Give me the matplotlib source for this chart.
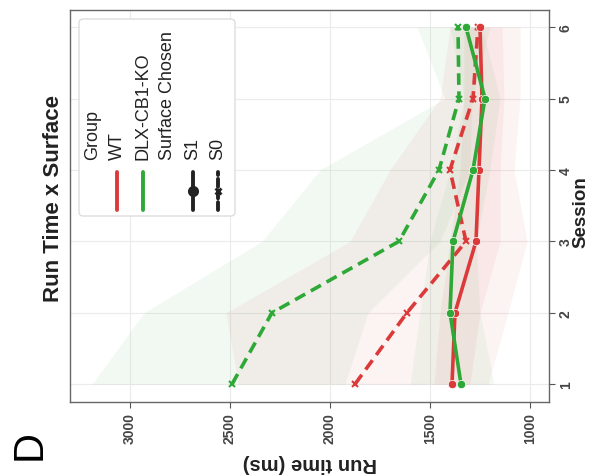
import matplotlib
matplotlib.use("Agg")
import matplotlib.pyplot as plt
from matplotlib.lines import Line2D
from matplotlib.patches import FancyBboxPatch
import numpy as np

plt.rcParams['font.family'] = ['Liberation Sans', 'DejaVu Sans']

sessions = [1, 2, 3, 4, 5, 6]

# mean run times (ms)
wt_s1 = [1390, 1375, 1270, 1255, 1240, 1250]
wt_s0 = [1875, 1615, 1320, 1400, 1285, 1260]
ko_s1 = [1345, 1400, 1385, 1285, 1225, 1320]
ko_s0 = [2490, 2290, 1655, 1455, 1355, 1360]

# ribbon bounds (high ms, low ms)
wt_s1_hi = [1480, 1450, 1400, 1350, 1330, 1330]
wt_s1_lo = [1300, 1250, 1150, 1150, 1130, 1140]
wt_s0_hi = [2460, 2520, 1900, 1700, 1450, 1400]
wt_s0_lo = [1210, 1110, 1015, 1080, 1050, 1050]
ko_s1_hi = [1600, 1550, 1500, 1400, 1330, 1400]
ko_s1_lo = [1180, 1250, 1270, 1200, 1150, 1240]
ko_s0_hi = [3190, 2930, 2340, 2050, 1425, 1565]
ko_s0_lo = [1925, 1810, 1450, 1300, 1290, 1200]

run_ticks = [3000, 2500, 2000, 1500, 1000]

RED = "#DC3A3A"
GREEN = "#2EA836"

W, H = 598, 477
fig = plt.figure(figsize=(W / 100, H / 100), dpi=100)

def fx(px):
    return px / W

def fy(py):
    return 1 - py / H

ax = fig.add_axes([fx(70), fy(403), fx(549) - fx(70), fy(11) - fy(403)])

# ribbons
for hi, lo, c in [(ko_s0_hi, ko_s0_lo, GREEN), (wt_s0_hi, wt_s0_lo, RED),
                  (ko_s1_hi, ko_s1_lo, GREEN), (wt_s1_hi, wt_s1_lo, RED)]:
    ax.fill_betweenx(sessions, hi, lo, color=c, alpha=0.06, lw=0, zorder=1)

dash = (0, (3.2, 1.8))
lw = 2.6
ax.plot(ko_s0, sessions, color=GREEN, lw=lw, ls=dash, marker='x', ms=5, mew=1.5, zorder=3)
ax.plot(wt_s0, sessions, color=RED, lw=lw, ls=dash, marker='x', ms=5, mew=1.5, zorder=3)
ax.plot(wt_s1, sessions, color=RED, lw=lw, ls='-', marker='o', ms=6, mec='white', mew=0.5, zorder=4)
ax.plot(ko_s1, sessions, color=GREEN, lw=lw, ls='-', marker='o', ms=6, mec='white', mew=0.5, zorder=4)

ax.set_xlim(3300, 905)
ax.set_ylim(0.75, 6.24)
ax.set_xticks(run_ticks)
ax.set_xticklabels([str(t) for t in run_ticks], rotation=90, fontsize=10, color='#444444', fontweight='bold')
ax.set_yticks(sessions)
ax.yaxis.tick_right()
ax.set_yticklabels([str(s) for s in sessions], rotation=90, fontsize=10, color='#444444',
                   va='center', fontweight='bold')
ax.tick_params(axis='both', length=4, width=0.8, color='#555555', pad=3)
ax.grid(True, color='#ebebeb', lw=0.8, zorder=0)
ax.set_axisbelow(True)
for s in ax.spines.values():
    s.set_color('#666666')
    s.set_linewidth(1.0)

# text labels
fig.text(fx(54), fy(198), "Run Time x Surface", rotation=90, ha='center', va='center',
         fontsize=16, fontweight='bold', color='#222222')
fig.text(fx(310), fy(463), "Run time (ms)", rotation=180, ha='center', va='center',
         fontsize=14.5, fontweight='bold', color='#222222')
fig.text(fx(581), fy(212), "Session", rotation=90, ha='center', va='center',
         fontsize=13.5, fontweight='bold', color='#222222')
fig.text(fx(30), fy(445), "D", rotation=90, ha='center', va='center',
         fontsize=30, color='black')

# legend (drawn manually, rotated)
box = FancyBboxPatch((fx(79), fy(217)), fx(235) - fx(79), fy(20) - fy(217),
                     boxstyle="round,pad=0,rounding_size=0.008", transform=fig.transFigure,
                     facecolor='white', edgecolor='#dddddd', lw=1.0, zorder=5)
fig.add_artist(box)

leg_items = [
    (93, "Group", None),
    (117, "WT", dict(color=RED, ls='-', marker=None)),
    (143, "DLX-CB1-KO", dict(color=GREEN, ls='-', marker=None)),
    (167, "Surface Chosen", None),
    (193, "S1", dict(color='#222222', ls='-', marker='o')),
    (218, "S0", dict(color='#222222', ls=(0, (2, 1)), marker='x')),
]
for px, label, st in leg_items:
    fig.text(fx(px), fy(160), label, rotation=90, ha='center', va='bottom',
             fontsize=13, color='#222222', zorder=6)
    if st is not None:
        ln = Line2D([fx(px), fx(px)], [fy(211), fy(173)], transform=fig.transFigure,
                    color=st['color'], lw=2.8, ls=st['ls'], solid_capstyle='round',
                    dash_capstyle='round', zorder=6)
        fig.add_artist(ln)
        if st['marker'] is not None:
            mk = Line2D([fx(px)], [fy(192)], transform=fig.transFigure, color=st['color'],
                        marker=st['marker'], ms=6 if st['marker'] == 'o' else 5, mew=2,
                        ls='none', zorder=7)
            fig.add_artist(mk)

fig.savefig("out.png", dpi=100)
